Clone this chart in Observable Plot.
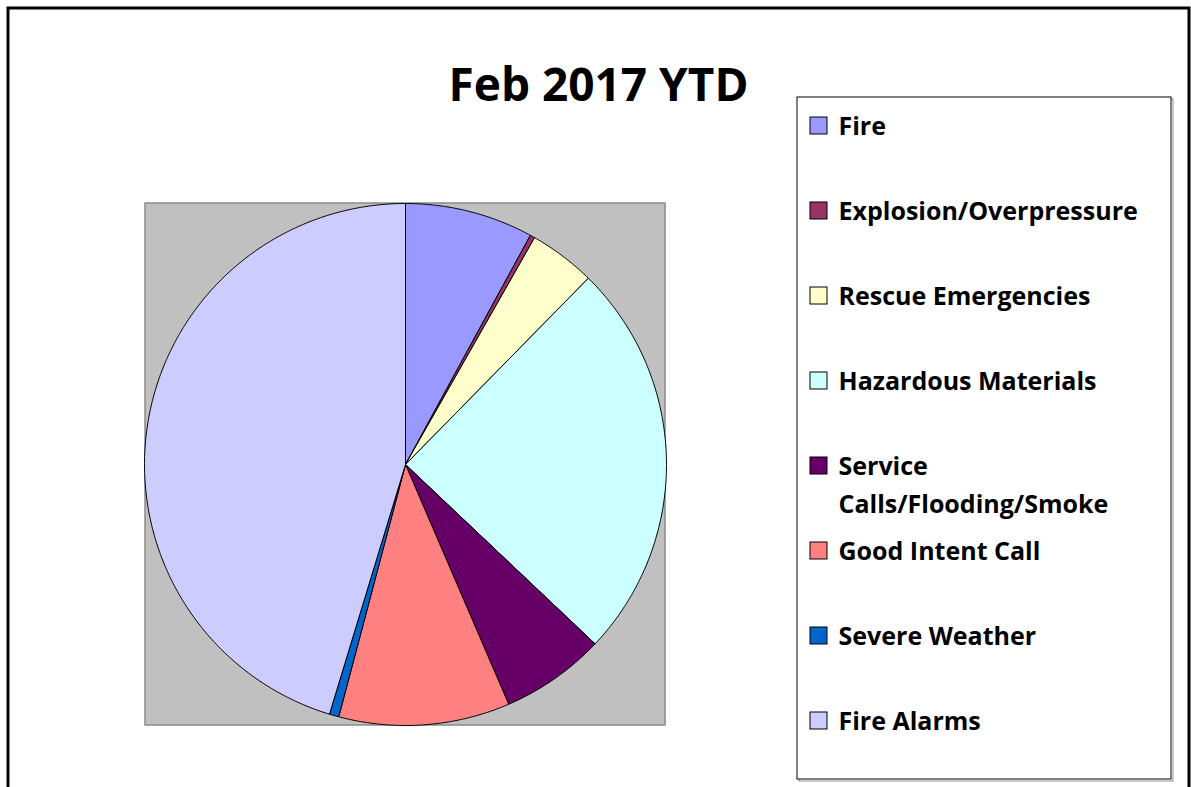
<!DOCTYPE html>
<html>
<head>
<meta charset="utf-8">
<script src="https://cdn.jsdelivr.net/npm/d3@7"></script>
<script src="https://cdn.jsdelivr.net/npm/@observablehq/plot@0.6"></script>
<style>
  html, body { margin: 0; padding: 0; background: #fff; }
  #chart svg { display: block; }
</style>
</head>
<body>
<div id="chart"></div>
<script>
// ---- data ----
const title = "Feb 2017 YTD";
const categories = ["Fire", "Explosion/Overpressure", "Rescue Emergencies", "Hazardous Materials",
  "Service Calls/Flooding/Smoke", "Good Intent Call", "Severe Weather", "Fire Alarms"];
const values = [27, 1, 14, 84, 22, 36, 2, 154];
const legendLines = [["Fire"], ["Explosion/Overpressure"], ["Rescue Emergencies"], ["Hazardous Materials"],
  ["Service", "Calls/Flooding/Smoke"], ["Good Intent Call"], ["Severe Weather"], ["Fire Alarms"]];
const colors = ["#9999FF", "#993366", "#FFFFCC", "#CCFFFF", "#660066", "#FF8080", "#0066CC", "#CCCCFF"];

// ---- layout ----
const W = 1191, H = 787;
const L = {
  cx: 405, cy: 464, r: 261,
  plot: {x1: 145, x2: 665, y1: 203, y2: 725},
  legend: {x1: 797, x2: 1171, y1: 97, y2: 779, y0: 126, step: 85, sw: 810, tx: 838, lh: 38},
  border: {x1: 8, x2: 1189, y1: 8, y2: 820},
  title: {x: 598, y: 86}
};
const font = "'Open Sans', Lato, sans-serif";

const data = categories.map((c, i) => ({name: c, value: values[i]}));
const arcs = d3.pie().sort(null).value(d => d.value)(data);

// polygon points for each slice
const pts = [];
for (const a of arcs) {
  const n = Math.max(2, Math.ceil((a.endAngle - a.startAngle) / (Math.PI / 360)));
  pts.push({name: a.data.name, x: L.cx, y: L.cy});
  for (let k = 0; k <= n; k++) {
    const t = a.startAngle + (a.endAngle - a.startAngle) * k / n;
    pts.push({name: a.data.name, x: L.cx + L.r * Math.sin(t), y: L.cy - L.r * Math.cos(t)});
  }
  pts.push({name: a.data.name, x: L.cx, y: L.cy});
}

const legendItems = categories.map((c, i) => ({name: c, y: L.legend.y0 + i * L.legend.step}));
const legendText = [];
legendLines.forEach((lines, i) => lines.forEach((t, k) =>
  legendText.push({text: t, y: L.legend.y0 + i * L.legend.step + k * L.legend.lh})));

const chart = Plot.plot({
  width: W, height: H, margin: 0,
  x: {domain: [0, W], range: [0, W], axis: null},
  y: {domain: [0, H], range: [0, H], axis: null},
  color: {type: "ordinal", domain: categories, range: colors},
  style: {background: "#fff"},
  marks: [
    // outer border
    Plot.rect([L.border], {x1: "x1", x2: "x2", y1: "y1", y2: "y2", fill: "none", stroke: "black", strokeWidth: 3}),
    // plot area
    Plot.rect([L.plot], {x1: "x1", x2: "x2", y1: "y1", y2: "y2", fill: "#C0C0C0", stroke: "#8a8a8a", strokeWidth: 1.5}),
    // pie
    Plot.line(pts, {x: "x", y: "y", z: "name", fill: "name", stroke: "black", strokeWidth: 1, strokeLinejoin: "round", curve: "linear"}),
    // title
    Plot.text([title], {x: L.title.x, y: L.title.y, text: d => d, fontSize: 46, fontWeight: "bold", fontFamily: font, fill: "black", lineAnchor: "middle"}),
    // legend box shadow + box
    Plot.rect([L.legend], {x1: d => d.x1 + 2, x2: d => d.x2 + 2, y1: d => d.y1 + 2, y2: d => d.y2 + 2, fill: "none", stroke: "#909090", strokeWidth: 1}),
    Plot.rect([L.legend], {x1: "x1", x2: "x2", y1: "y1", y2: "y2", fill: "white", stroke: "black", strokeWidth: 1}),
    // swatches
    Plot.rect(legendItems, {x1: L.legend.sw, x2: L.legend.sw + 17, y1: d => d.y - 9, y2: d => d.y + 8, fill: "name", stroke: "black", strokeWidth: 1}),
    Plot.text(legendText, {x: L.legend.tx, y: "y", text: "text", textAnchor: "start", lineAnchor: "middle", fontSize: 25, fontWeight: "bold", fontFamily: font, fill: "black"})
  ]
});
document.getElementById("chart").append(chart);
</script>
</body>
</html>
